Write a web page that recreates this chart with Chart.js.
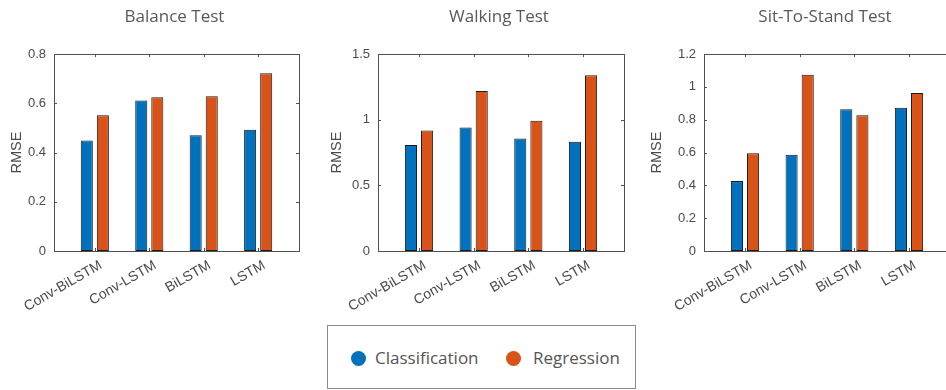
<!DOCTYPE html>
<html>
<head>
<meta charset="utf-8">
<script src="https://cdn.jsdelivr.net/npm/chart.js@4.4.1/dist/chart.umd.min.js"></script>
<style>
  html, body { margin: 0; padding: 0; background: #fff; }
  #fig { position: relative; width: 946px; height: 390px; overflow: hidden; background: #fff; }
  .panel { position: absolute; top: 0; }
  #legend {
    position: absolute; left: 327px; top: 325px; width: 309px; height: 64px;
    box-sizing: border-box; border: 1px solid #8a8a8a; background: #fff;
    font-family: "Open Sans", sans-serif; font-size: 17px; color: #555;
  }
  #legend .dot { position: absolute; width: 15px; height: 15px; border-radius: 50%; top: 25px; }
  #legend .txt { position: absolute; top: 20px; line-height: 24px; white-space: nowrap; }
</style>
</head>
<body>
<div id="fig">
  <canvas id="c1" class="panel" width="330" height="330" style="left:0px"></canvas>
  <canvas id="c2" class="panel" width="330" height="330" style="left:320px"></canvas>
  <canvas id="c3" class="panel" width="340" height="330" style="left:640px"></canvas>
  <div id="legend">
    <span class="dot" style="left:23px;background:#0072BD"></span>
    <span class="txt" style="left:47px">Classification</span>
    <span class="dot" style="left:178px;background:#D95319"></span>
    <span class="txt" style="left:205px">Regression</span>
  </div>
</div>
<script>
// Model names along each x axis
const models = ['Conv-BiLSTM', 'Conv-LSTM', 'BiLSTM', 'LSTM'];
const seriesNames = ['Classification', 'Regression'];

// RMSE per test
const balanceClassification = [0.449, 0.611, 0.470, 0.492];
const balanceRegression     = [0.551, 0.624, 0.628, 0.722];
const walkingClassification = [0.808, 0.940, 0.856, 0.831];
const walkingRegression     = [0.917, 1.219, 0.991, 1.338];
const stsClassification     = [0.426, 0.586, 0.864, 0.872];
const stsRegression         = [0.596, 1.074, 0.827, 0.963];

// y-axis tick settings per test
const balanceTicks = { max: 0.8, step: 0.2 };
const walkingTicks = { max: 1.5, step: 0.5 };
const stsTicks     = { max: 1.2, step: 0.2 };

const BLUE = '#0072BD';
const ORANGE = '#D95319';
const AXIS = '#505050';
const TEXT = '#4a4a4a';
const SANS = '"Liberation Sans", Arial, sans-serif';

const PLOT_TOP = 54;
const PLOT_BOTTOM = 251;
const CANVAS_H = 330;

// Box outline with inward ticks plus the panel heading
const axisFrame = {
  id: 'axisFrame',
  beforeDatasetsDraw(chart) {
    const { ctx, chartArea: a, scales } = chart;
    ctx.save();
    ctx.strokeStyle = AXIS;
    ctx.lineWidth = 1;
    ctx.beginPath();
    scales.y.ticks.forEach(t => {
      const y = Math.round(scales.y.getPixelForValue(t.value)) + 0.5;
      ctx.moveTo(a.left, y); ctx.lineTo(a.left + 3, y);
      ctx.moveTo(a.right, y); ctx.lineTo(a.right - 3, y);
    });
    scales.x.ticks.forEach(t => {
      const x = Math.round(scales.x.getPixelForValue(t.value)) + 0.5;
      ctx.moveTo(x, a.top); ctx.lineTo(x, a.top + 3);
      ctx.moveTo(x, a.bottom); ctx.lineTo(x, a.bottom - 3);
    });
    ctx.stroke();
    ctx.restore();
  },
  afterDatasetsDraw(chart) {
    const { ctx, chartArea: a } = chart;
    ctx.save();
    ctx.strokeStyle = AXIS;
    ctx.lineWidth = 1;
    ctx.strokeRect(Math.round(a.left) + 0.5, Math.round(a.top) + 0.5,
                   Math.round(a.right - a.left), Math.round(a.bottom - a.top));
    ctx.restore();
  },
  afterDraw(chart, args, opts) {
    const { ctx, chartArea: a } = chart;
    ctx.save();
    ctx.font = '17px "Open Sans", sans-serif';
    ctx.fillStyle = '#595959';
    ctx.textAlign = 'center';
    ctx.textBaseline = 'alphabetic';
    ctx.fillText(opts.text, (a.left + a.right) / 2 - 2, 22);
    ctx.restore();
  }
};

function makePanel(id, canvasLeft, canvasWidth, plotLeft, plotRight, title, cls, reg, yt) {
  const toPoints = vals => vals.map((v, i) => ({ x: i + 1, y: v }));
  const barStyle = {
    borderColor: '#1a1a1a', borderWidth: 1, borderSkipped: false,
    categoryPercentage: 0.59, barPercentage: 0.75
  };
  return new Chart(document.getElementById(id), {
    type: 'bar',
    data: {
      datasets: [
        Object.assign({ label: seriesNames[0], data: toPoints(cls), backgroundColor: BLUE }, barStyle),
        Object.assign({ label: seriesNames[1], data: toPoints(reg), backgroundColor: ORANGE }, barStyle)
      ]
    },
    options: {
      responsive: false,
      animation: false,
      devicePixelRatio: 1,
      layout: { padding: { top: PLOT_TOP, left: 0, right: canvasWidth - (plotRight - canvasLeft), bottom: 0 } },
      plugins: {
        legend: { display: false },
        tooltip: { enabled: false },
        axisFrame: { text: title }
      },
      scales: {
        x: {
          type: 'linear', min: 0.25, max: 4.75, offset: false,
          grid: { display: false, drawTicks: false },
          border: { display: false },
          afterBuildTicks: s => { s.ticks = models.map((_, i) => ({ value: i + 1 })); },
          afterFit: s => {
            s.height = CANVAS_H - PLOT_BOTTOM;
            s.paddingLeft = 0;
            s.paddingRight = 0;
          },
          ticks: {
            autoSkip: false, minRotation: 30, maxRotation: 30, padding: 6, labelOffset: 6,
            color: TEXT, font: { family: SANS, size: 14 },
            callback: v => models[Math.round(v) - 1] || ''
          }
        },
        y: {
          min: 0, max: yt.max,
          grid: { display: false, drawTicks: false },
          border: { display: false },
          afterFit: s => { s.width = plotLeft - canvasLeft; },
          ticks: {
            stepSize: yt.step, padding: 8,
            color: TEXT, font: { family: SANS, size: 13 },
            callback: v => String(+Number(v).toFixed(2))
          },
          title: {
            display: true, text: 'RMSE', color: TEXT,
            font: { family: SANS, size: 14.5 },
            padding: { top: 8, bottom: 0 }
          }
        }
      }
    },
    plugins: [axisFrame]
  });
}

makePanel('c1', 0, 330, 54, 299, 'Balance Test', balanceClassification, balanceRegression, balanceTicks);
makePanel('c2', 320, 330, 378, 624, 'Walking Test', walkingClassification, walkingRegression, walkingTicks);
makePanel('c3', 640, 340, 704, 950, 'Sit-To-Stand Test', stsClassification, stsRegression, stsTicks);
</script>
</body>
</html>
